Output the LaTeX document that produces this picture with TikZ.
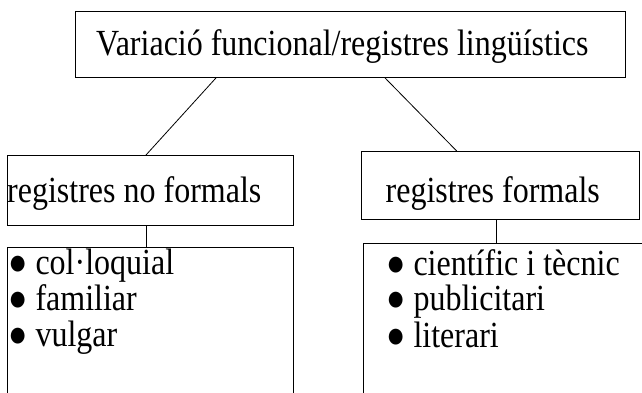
\documentclass[tikz,border=0pt]{standalone}
\usepackage{graphicx}
\usepackage{fontspec}
\setmainfont{Liberation Serif}
\newcommand{\vstretch}[1]{\scalebox{1}[1.15]{#1}}
\begin{document}
\begin{tikzpicture}[x=1pt,y=-1pt,
  box/.style={draw=black,line width=0.9pt,rectangle,inner sep=0pt,anchor=north west},
  txt/.style={inner sep=0pt,anchor=base west,font=\fontsize{32}{36}\selectfont},
  conn/.style={draw=black,line width=0.8pt}]
\useasboundingbox (0,0) rectangle (642,392);
\clip (0,0) rectangle (642,392);
% boxes
\node[box,minimum width=550.3pt,minimum height=66pt] (top) at (74.7,11) {};
\node[box,minimum width=286pt,minimum height=70pt] (nf) at (6.7,155) {};
\node[box,minimum width=278pt,minimum height=68pt] (f) at (360.7,151) {};
\node[box,minimum width=286pt,minimum height=170pt] (lnf) at (6.7,247) {};
\node[box,minimum width=300pt,minimum height=170pt] (lf) at (362.5,243) {};
% texts
\node[txt] (ttop) at (96,55) {\vstretch{Variació funcional/registres lingüístics}};
\node[txt] (tnf) at (7,202.5) {\vstretch{registres no formals}};
\node[txt] (tf) at (385.5,202.5) {\vstretch{registres formals}};
\node[txt] (a1) at (8,274) {\vstretch{● col·loquial}};
\node[txt] (a2) at (8,310) {\vstretch{● familiar}};
\node[txt] (a3) at (8,346) {\vstretch{● vulgar}};
\node[txt] (b1) at (386,275) {\vstretch{● científic i tècnic}};
\node[txt] (b2) at (386,310.5) {\vstretch{● publicitari}};
\node[txt] (b3) at (386,347) {\vstretch{● literari}};
% connectors
\draw[conn] ([xshift=141.3pt]top.south west) -- ([xshift=139.3pt]nf.north west);
\draw[conn] ([xshift=310.3pt]top.south west) -- ([xshift=96pt]f.north west);
\draw[conn] ([xshift=140pt]nf.south west) -- ([xshift=140pt]lnf.north west);
\draw[conn] ([xshift=136pt]f.south west) -- ([xshift=134.2pt]lf.north west);
\end{tikzpicture}
\end{document}
